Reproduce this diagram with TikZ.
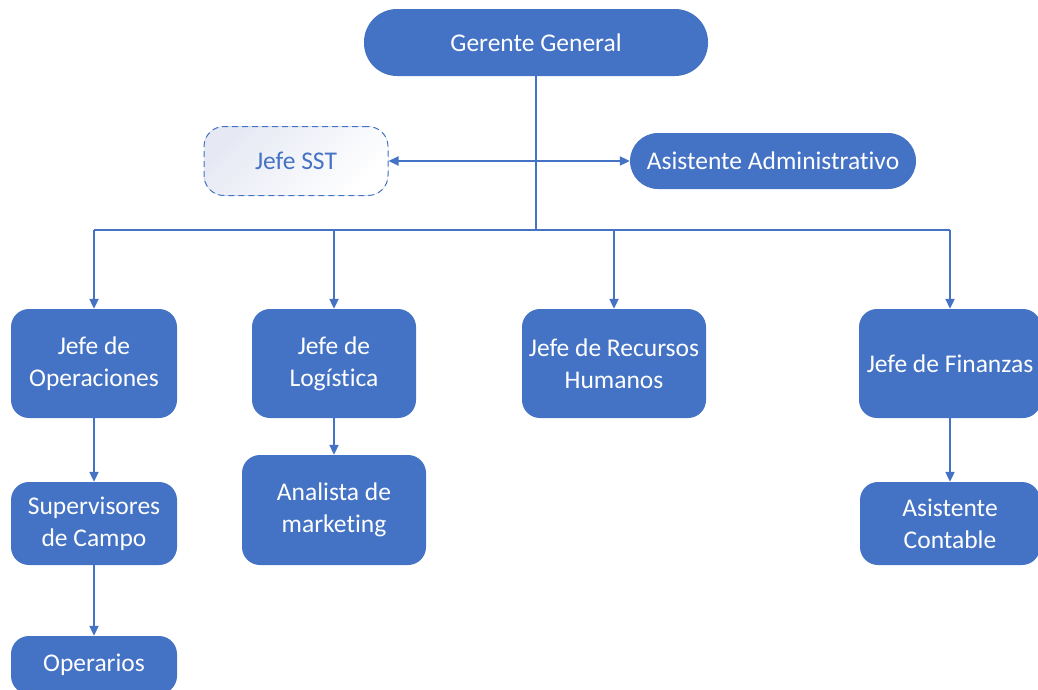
\documentclass[tikz,border=0pt]{standalone}
\usepackage{fontspec}
\setmainfont[Ligatures=NoCommon]{Carlito}
\usetikzlibrary{arrows.meta}
\definecolor{ob}{HTML}{4472C4}
\definecolor{sstfill}{HTML}{E6E9F4}
\begin{document}
\begin{tikzpicture}[x=1pt,y=-1pt,
  box/.style={fill=ob, text=white, rounded corners=18pt, inner sep=0pt, align=center,
    font=\fontsize{25.5}{32}\selectfont},
  conn/.style={draw=ob, line width=2pt, -{Triangle[length=10pt,width=9pt]}},
  bus/.style={draw=ob, line width=2pt}]
\useasboundingbox (0,0) rectangle (1038,689);
% nodes
\node[box, rounded corners=33pt, minimum width=344pt, minimum height=67pt] (gg) at (536,42.5) {Gerente General};
\node[box, text=ob, draw=ob, line width=1pt, dash pattern=on 6pt off 4pt, rounded corners=20pt,
  shading=axis, top color=sstfill, bottom color=white, shading angle=45,
  minimum width=184pt, minimum height=69pt] (sst) at (296,161) {Jefe SST};
\node[box, rounded corners=28pt, minimum width=286pt, minimum height=56pt] (aa) at (773,161) {Asistente Administrativo};
\node[box, minimum width=166pt, minimum height=109pt] (op) at (94,363.5) {Jefe de\\Operaciones};
\node[box, minimum width=164pt, minimum height=109pt] (lo) at (334,363.5) {Jefe de\\Logística};
\node[box, minimum width=184pt, minimum height=109pt] (rh) at (614,363.5) {Jefe de Recursos\\Humanos};
\node[box, minimum width=182pt, minimum height=109pt] (fi) at (950,363.5) {Jefe de Finanzas};
\node[box, minimum width=166pt, minimum height=83pt] (sc) at (94,523.5) {Supervisores\\de Campo};
\node[box, minimum width=184pt, minimum height=110pt] (am) at (334,510) {Analista de\\marketing};
\node[box, minimum width=180pt, minimum height=83pt] (ac) at (950,523.5) {Asistente\\Contable};
\node[box, minimum width=166pt, minimum height=58pt] (ope) at (94,665) {Operarios};
% bus
\coordinate (busL) at (94,230);
\coordinate (busR) at (950,230);
\draw[bus] (gg.south) -- (gg.south |- busL);
\draw[bus] (busL) -- (busR);
\draw[conn] (busL) -- (op.north);
\draw[conn] (lo.north |- busL) -- (lo.north);
\draw[conn] (rh.north |- busL) -- (rh.north);
\draw[conn] (busR) -- (fi.north);
% SST <-> Asistente
\draw[draw=ob, line width=2pt, {Triangle[length=10pt,width=9pt]}-{Triangle[length=10pt,width=9pt]}] (sst.east) -- (aa.west);
% vertical chains
\draw[conn] (op.south) -- (sc.north);
\draw[conn] (sc.south) -- (ope.north);
\draw[conn] (lo.south) -- (am.north);
\draw[conn] (fi.south) -- (ac.north);
\end{tikzpicture}
\end{document}
